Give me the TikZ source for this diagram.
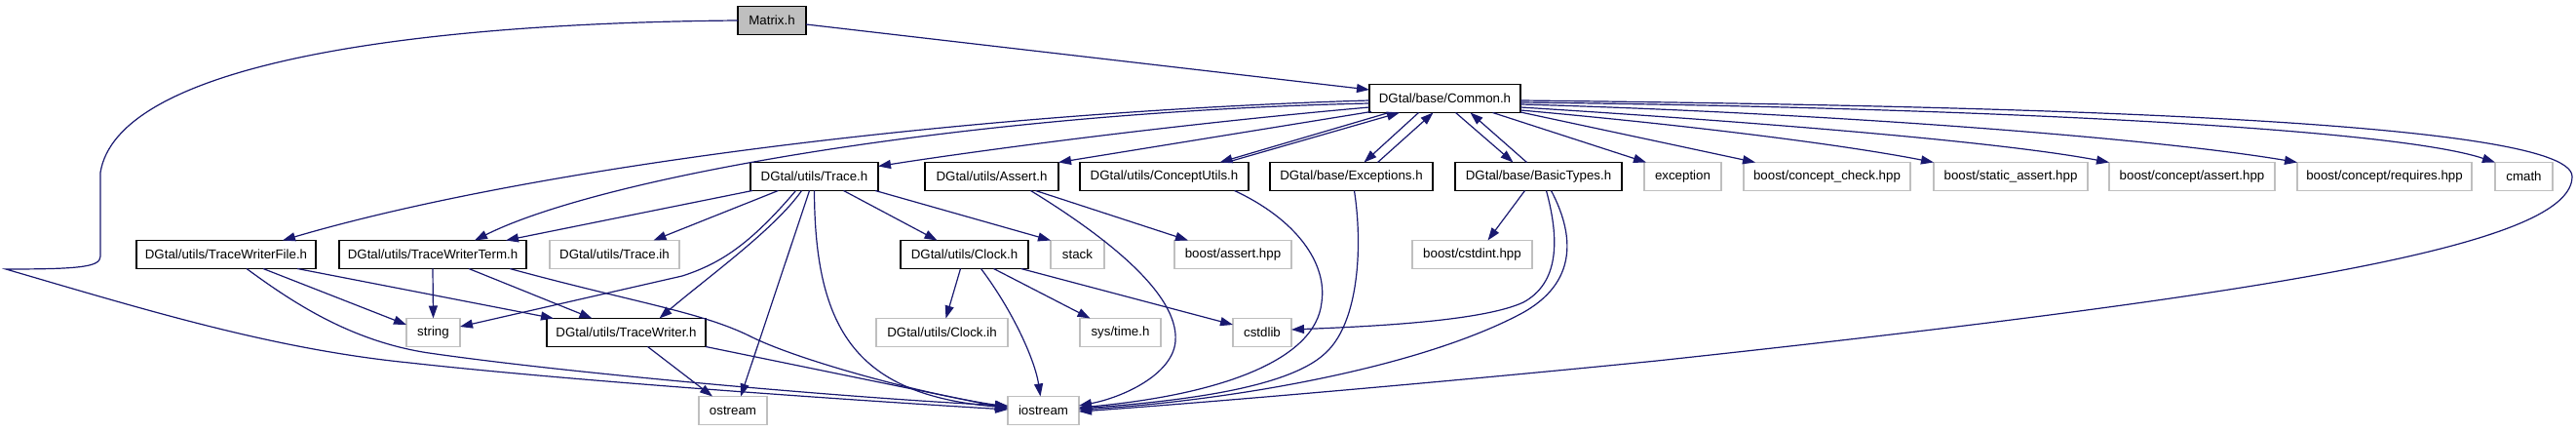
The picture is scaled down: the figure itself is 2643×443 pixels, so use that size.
\documentclass[tikz,border=0pt]{standalone}
\usepackage{fontspec}
\setmainfont{Liberation Sans}
\usetikzlibrary{arrows.meta,calc}
\definecolor{edgecol}{HTML}{191970}
\definecolor{graybd}{HTML}{BFBFBF}
\definecolor{matfill}{HTML}{BFBFBF}
\begin{document}
\begin{tikzpicture}[x=1pt,y=-1pt,
  base/.style={rectangle, minimum height=29pt, inner sep=0pt, outer sep=0pt, font=\fontsize{13.3}{16}\selectfont, line width=1.3pt},
  intn/.style={base, draw=black, fill=white},
  extn/.style={base, draw=graybd, line width=1.2pt, fill=white},
  rootn/.style={base, draw=black, fill=matfill},
  edge/.style={draw=edgecol, line width=1.2pt, -{Triangle[length=13pt,width=9pt]}}]
\fill[white] (0,0) rectangle (2643,443);
\useasboundingbox (0,0) rectangle (2643,443);
% row 0
\node[rootn, minimum width=70pt] (matrix) at (792,21) {Matrix.h};
% row 1
\node[intn, minimum width=155pt] (common) at (1482.5,101) {DGtal/base/Common.h};
% row 2
\node[intn, minimum width=131pt] (trace) at (835.5,181) {DGtal/utils/Trace.h};
\node[intn, minimum width=137pt] (assert) at (1017.5,181) {DGtal/utils/Assert.h};
\node[intn, minimum width=173pt] (conceptutils) at (1194.5,181) {DGtal/utils/ConceptUtils.h};
\node[intn, minimum width=167pt] (exceptions) at (1386.5,181) {DGtal/base/Exceptions.h};
\node[intn, minimum width=171pt] (basictypes) at (1578.5,181) {DGtal/base/BasicTypes.h};
\node[extn, minimum width=79pt] (exception) at (1726.5,181) {exception};
\node[extn, minimum width=171pt] (conceptcheck) at (1874.5,181) {boost/concept\_check.hpp};
\node[extn, minimum width=158pt] (staticassert) at (2063,181) {boost/static\_assert.hpp};
\node[extn, minimum width=170pt] (conceptassert) at (2249,181) {boost/concept/assert.hpp};
\node[extn, minimum width=179pt] (requires) at (2446.5,181) {boost/concept/requires.hpp};
\node[extn, minimum width=59pt] (cmath) at (2589.5,181) {cmath};
% row 3
\node[intn, minimum width=184pt] (twfile) at (232,261) {DGtal/utils/TraceWriterFile.h};
\node[intn, minimum width=192pt] (twterm) at (444,261) {DGtal/utils/TraceWriterTerm.h};
\node[extn, minimum width=133pt] (traceih) at (630.5,261) {DGtal/utils/Trace.ih};
\node[intn, minimum width=131pt] (clock) at (989.5,261) {DGtal/utils/Clock.h};
\node[extn, minimum width=55pt] (stack) at (1105.5,261) {stack};
\node[extn, minimum width=120pt] (boostassert) at (1265,261) {boost/assert.hpp};
\node[extn, minimum width=123pt] (cstdint) at (1510.5,261) {boost/cstdint.hpp};
% row 4
\node[extn, minimum width=55pt] (string) at (444.5,341) {string};
\node[intn, minimum width=163pt] (tracewriter) at (642.5,341) {DGtal/utils/TraceWriter.h};
\node[extn, minimum width=135pt] (clockih) at (966.5,341) {DGtal/utils/Clock.ih};
\node[extn, minimum width=83pt] (systime) at (1149.5,341) {sys/time.h};
\node[extn, minimum width=60pt] (cstdlib) at (1295,341) {cstdlib};
% row 5
\node[extn, minimum width=70pt] (ostream) at (752,421) {ostream};
\node[extn, minimum width=73pt] (iostream) at (1070.5,421) {iostream};

% Matrix.h
\draw[edge] ($(matrix.east)+(0,4)$) -- ($(common.west)+(0,-9)$);
\draw[edge] (matrix.west) .. controls (400,24) and (120,70) .. (103,177) -- (103,263)
  .. controls (103,274) and (80,276) .. (6,276)
  .. controls (150,318) and (280,358) .. (420,372)
  .. controls (600,392) and (900,412) .. ($(iostream.west)+(0,-1)$);
% Common.h left
\draw[edge] ($(common.west)+(0,2)$) .. controls (1000,115) and (550,170) .. ($(twfile.north)+(58,0)$);
\draw[edge] ($(common.west)+(0,5)$) .. controls (1000,115) and (620,180) .. ($(twterm.north)+(43,0)$);
\draw[edge] ($(common.west)+(0,9)$) .. controls (1200,128) and (1000,155) .. ($(trace.north east)+(0,4)$);
\draw[edge] ($(common.south west)+(2,-1)$) -- (assert.north east);
\draw[edge] ($(common.south west)+(20,0)$) -- ($(conceptutils.north)+(57,0)$);
\draw[edge] ($(conceptutils.north)+(64,0)$) -- ($(common.south west)+(31,0)$);
\draw[edge] ($(common.south)+(-27,0)$) -- ($(exceptions.north)+(13,0)$);
\draw[edge] ($(exceptions.north)+(27,0)$) -- ($(common.south)+(-12,0)$);
\draw[edge] ($(common.south)+(11,0)$) -- ($(basictypes.north)+(-26,0)$);
\draw[edge] ($(basictypes.north)+(-12,0)$) -- ($(common.south)+(26,0)$);
\draw[edge] ($(common.south)+(49,0)$) -- ($(exception.north west)+(2,0)$);
% Common.h right
\draw[edge] ($(common.east)+(0,14)$) -- ($(conceptcheck.north west)+(12,0)$);
\draw[edge] ($(common.east)+(0,12)$) .. controls (1750,130) and (1900,150) .. (staticassert.north west);
\draw[edge] ($(common.east)+(0,9)$) .. controls (1800,125) and (2050,145) .. (conceptassert.north west);
\draw[edge] ($(common.east)+(0,6)$) .. controls (1850,115) and (2200,140) .. (requires.north west);
\draw[edge] ($(common.east)+(0,4)$) .. controls (2000,110) and (2450,130) .. (cmath.north west);
\draw[edge] ($(common.east)+(0,2)$) .. controls (2000,108) and (2639,120) .. (2639,181)
  .. controls (2639,250) and (2350,300) .. (1700,370)
  .. controls (1500,390) and (1250,412) .. ($(iostream.east)+(0,1)$);
% Trace.h
\draw[edge] ($(trace.south west)+(2,0)$) -- ($(twterm.north)+(75,0)$);
\draw[edge] ($(trace.south)+(-37,0)$) -- ($(traceih.north)+(40,0)$);
\draw[edge] ($(trace.south)+(-19,0)$) .. controls (770,250) and (740,270) .. (700,283) -- ($(string.east)+(0,-6)$);
\draw[edge] ($(trace.south)+(-13,0)$) .. controls (795,235) and (725,285) .. ($(tracewriter.north)+(34,0)$);
\draw[edge] ($(trace.south)+(-5,0)$) -- ($(ostream.north)+(8,0)$);
\draw[edge] (trace.south) .. controls (836,340) and (880,405) .. ($(iostream.west)+(0,-3)$);
\draw[edge] ($(trace.south)+(30,0)$) -- ($(clock.north)+(-28,0)$);
\draw[edge] ($(trace.south east)+(-3,0)$) -- (stack.north west);
% Assert.h
\draw[edge] ($(assert.south)+(45,0)$) -- ($(boostassert.north)+(-46,0)$);
\draw[edge] ($(assert.south)+(40,0)$) .. controls (1130,240) and (1210,300) .. (1206,350)
  .. controls (1203,385) and (1150,408) .. ($(iostream.east)+(0,-5)$);
% ConceptUtils.h, Exceptions.h
\draw[edge] ($(conceptutils.south)+(72,0)$) .. controls (1330,225) and (1362,270) .. (1356,310)
  .. controls (1350,370) and (1250,405) .. ($(iostream.east)+(0,-3)$);
\draw[edge] ($(exceptions.south)+(3,0)$) .. controls (1398,250) and (1395,330) .. (1360,362)
  .. controls (1320,400) and (1200,412) .. ($(iostream.east)+(0,-2)$);
% BasicTypes.h
\draw[edge] ($(basictypes.south)+(-14,0)$) -- ($(cstdint.north)+(16,0)$);
\draw[edge] ($(basictypes.south)+(8,0)$) .. controls (1600,245) and (1600,290) .. (1563,310)
  .. controls (1520,330) and (1400,335) .. ($(cstdlib.east)+(0,-3)$);
\draw[edge] ($(basictypes.south)+(13,0)$) .. controls (1615,240) and (1620,290) .. (1560,322)
  .. controls (1450,380) and (1250,412) .. ($(iostream.east)+(0,-1)$);
% TraceWriterFile.h
\draw[edge] ($(twfile.south)+(38,0)$) -- ($(string.west)+(0,-8)$);
\draw[edge] ($(twfile.south)+(73,0)$) -- ($(tracewriter.north west)+(7,0)$);
\draw[edge] ($(twfile.south)+(21,0)$) .. controls (300,310) and (360,350) .. (440,362)
  .. controls (600,385) and (900,410) .. ($(iostream.west)+(0,-5)$);
% TraceWriterTerm.h
\draw[edge] (twterm.south) -- (string.north);
\draw[edge] ($(twterm.south)+(37,0)$) -- ($(tracewriter.north)+(-35,0)$);
\draw[edge] ($(twterm.south)+(79,0)$) .. controls (650,310) and (720,320) .. (770,345)
  .. controls (820,370) and (950,405) .. ($(iostream.west)+(0,-4)$);
% TraceWriter.h
\draw[edge] ($(tracewriter.south)+(22,0)$) -- ($(ostream.north)+(-21,0)$);
\draw[edge] (tracewriter.south east) -- ($(iostream.west)+(0,-2)$);
% Clock.h
\draw[edge] ($(clock.south)+(-4,0)$) -- ($(clockih.north)+(4,0)$);
\draw[edge] ($(clock.south)+(17,0)$) .. controls (1040,320) and (1062,370) .. ($(iostream.north)+(-3,0)$);
\draw[edge] ($(clock.south)+(30,0)$) -- ($(systime.north)+(-31,0)$);
\draw[edge] ($(clock.south)+(58,0)$) -- ($(cstdlib.west)+(0,-8)$);
\end{tikzpicture}
\end{document}
